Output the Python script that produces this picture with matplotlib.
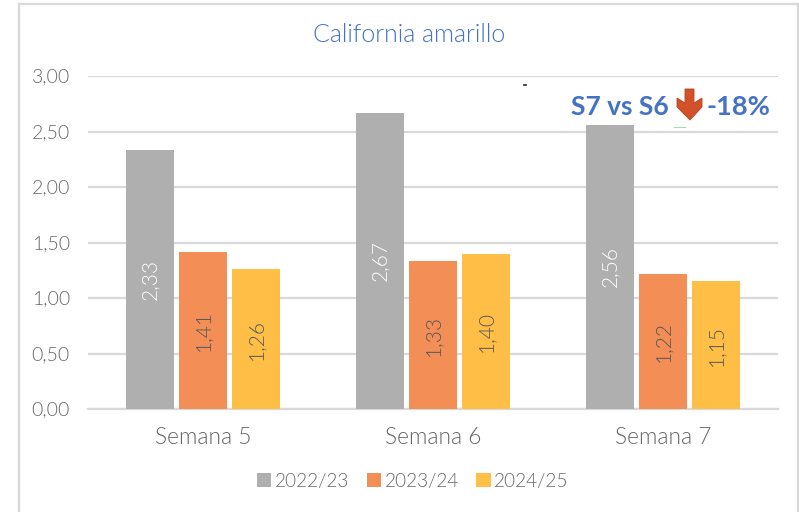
import matplotlib.pyplot as plt
import numpy as np
from matplotlib.patches import Polygon

plt.rcParams['font.family'] = ['Lato', 'DejaVu Sans']
plt.rcParams['font.weight'] = 300

semanas = ["Semana 5", "Semana 6", "Semana 7"]
campanas = ["2022/23", "2023/24", "2024/25"]
v_2223 = [2.33, 2.67, 2.56]
v_2324 = [1.41, 1.33, 1.22]
v_2425 = [1.26, 1.40, 1.15]
colores = ["#AFAFAF", "#F28E56", "#FFBE45"]
colores_txt = ["#FFFFFF", "#595959", "#595959"]

W, H = 799, 512
fig = plt.figure(figsize=(W / 100, H / 100), dpi=100)

# plot area in pixels: x 88-778, y 76-409
ax = fig.add_axes([88 / W, 1 - 409 / H, 690 / W, 333 / H])
x = np.arange(3)
for i, vals in enumerate([v_2223, v_2324, v_2425]):
    bars = ax.bar(x + (i - 1) * 0.23, vals, width=0.209, color=colores[i], label=campanas[i], zorder=3)
    for b, v in zip(bars, vals):
        ax.text(b.get_x() + b.get_width() / 2, v / 2, f"{v:.2f}".replace(".", ","), rotation=90,
                ha="center", va="center", fontsize=15, color=colores_txt[i], zorder=4)

ax.set_xlim(-0.5, 2.5)
ax.set_ylim(0, 3)
ax.set_yticks([0, 0.5, 1, 1.5, 2, 2.5, 3])
ax.set_yticklabels(["0,00", "0,50", "1,00", "1,50", "2,00", "2,50", "3,00"])
ax.set_xticks(x)
ax.set_xticklabels(semanas)
ax.tick_params(axis="both", length=0, labelcolor="#666666")
ax.tick_params(axis="x", pad=13, labelsize=16.4)
ax.tick_params(axis="y", pad=13, labelsize=14)
ax.grid(axis="y", color="#D9D9D9", lw=1.6, zorder=0)
ax.set_axisbelow(True)
for s in ["top", "right", "left"]:
    ax.spines[s].set_visible(False)
ax.spines["bottom"].set_color("#D9D9D9")
ax.spines["bottom"].set_linewidth(1.6)

# outer frame of the pasted chart
fig.add_artist(plt.Line2D([19 / W, 19 / W], [0, 1 - 4 / H], color="#D9D9D9", lw=1.6))
fig.add_artist(plt.Line2D([19 / W, 798 / W], [1 - 4 / H, 1 - 4 / H], color="#D9D9D9", lw=1.6))
fig.add_artist(plt.Line2D([798 / W, 798 / W], [0, 1 - 4 / H], color="#D9D9D9", lw=1.6))

fig.text(409 / W, 1 - 35 / H, "California amarillo", ha="center", va="center", fontsize=18, color="#4472C4")

leg = fig.legend(*ax.get_legend_handles_labels(), loc="center", bbox_to_anchor=(413 / W, 1 - 481 / H), ncol=3,
                 frameon=False, fontsize=13.7, labelcolor="#666666", handlelength=0.75, handleheight=0.75,
                 handletextpad=0.2, columnspacing=0.9)

# annotation pasted over the chart
fig.text(571 / W, 1 - 107 / H, "S7 vs S6", ha="left", va="center", fontsize=19, fontweight="bold", color="#4472C4")
fig.text(770 / W, 1 - 107 / H, "-18%", ha="right", va="center", fontsize=19.6, fontweight="bold", color="#4472C4")
flecha = [(685, 89), (694, 89), (694, 103), (702, 98), (702, 107), (690, 120), (677, 107), (677, 98), (685, 103)]
fig.add_artist(Polygon([(px / W, 1 - py / H) for px, py in flecha], closed=True, transform=fig.transFigure,
                       facecolor="#D2512A", edgecolor="#B5441F", lw=0.6))
# stray marks left in the screenshot
fig.add_artist(plt.Line2D([674 / W, 685 / W], [1 - 126.5 / H, 1 - 126.5 / H], color="#A9DDB0", lw=0.8))
fig.add_artist(plt.Line2D([524 / W, 526 / W], [1 - 85 / H, 1 - 85 / H], color="#222222", lw=1.2))

fig.savefig("out.png", dpi=100)
